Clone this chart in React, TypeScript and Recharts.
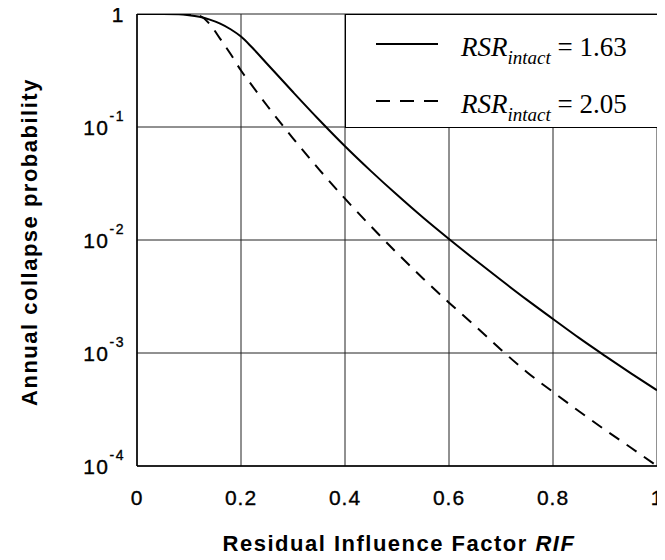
import React from 'react';
import { LineChart, Line, XAxis, YAxis, CartesianGrid, Legend, Label } from 'recharts';

// Residual Influence Factor (x) and annual collapse probability
const rif = [0, 0.05, 0.08, 0.1, 0.12, 0.14, 0.16, 0.18, 0.2, 0.22, 0.25, 0.3, 0.35, 0.4, 0.45, 0.5, 0.55, 0.6, 0.65, 0.7, 0.75, 0.8, 0.85, 0.9, 0.95, 1];
const pRsr163 = [1, 1, 0.995, 0.977, 0.944, 0.891, 0.822, 0.733, 0.631, 0.513, 0.363, 0.204, 0.116, 0.0676, 0.0407, 0.0251, 0.0158, 0.0102, 0.00668, 0.00442, 0.00295, 0.002, 0.00136, 0.000944, 0.000661, 0.000468];
const pRsr205 = [1, 1, 1, 0.995, 0.966, 0.813, 0.603, 0.442, 0.316, 0.237, 0.155, 0.0794, 0.0422, 0.0232, 0.0132, 0.00767, 0.00457, 0.00279, 0.00174, 0.00107, 0.000676, 0.000452, 0.000305, 0.000209, 0.000145, 0.0001];

const xTicks = [0, 0.2, 0.4, 0.6, 0.8, 1];
const yTicks = [1e-4, 1e-3, 1e-2, 1e-1, 1];
const yExponents = ['-4', '-3', '-2', '-1', ''];

const seriesKeys = ['rsr163', 'rsr205'];
const seriesValues = ['1.63', '2.05'];
const seriesDash = [undefined, '12 9'];

const data = rif.map((x, i) => ({ rif: x, rsr163: pRsr163[i], rsr205: pRsr205[i] }));

const SANS = 'Arial, "Liberation Sans", Helvetica, sans-serif';
const SERIF = '"Times New Roman", "Liberation Serif", Times, serif';

const XTick = (props: any) => {
    const { x, y, payload } = props;
    return (
        <text x={x} y={y + 39} textAnchor="middle" fontFamily={SANS} fontSize={21} letterSpacing={1}
            fill="#000" stroke="#000" strokeWidth={0.35}>
            {payload.value}
        </text>
    );
};

const YTick = (props: any) => {
    const { x, y, payload } = props;
    const idx = yTicks.indexOf(payload.value);
    const exp = yExponents[idx];
    const common = {
        x: x - 12, y: y + 7.5, textAnchor: 'end' as const, fontFamily: SANS, fontSize: 21,
        letterSpacing: 1.5, fill: '#000', stroke: '#000', strokeWidth: 0.35,
    };
    if (!exp) {
        return <text {...common}>1</text>;
    }
    return (
        <text {...common}>
            10<tspan dy={-14} fontSize={14}>{exp}</tspan>
        </text>
    );
};

const XTitle = (props: any) => {
    const { viewBox } = props;
    const cx = viewBox.x + viewBox.width / 2 + 2;
    return (
        <text x={cx} y={viewBox.y + 85} textAnchor="middle" fontFamily={SANS} fontSize={22} fontWeight="bold" letterSpacing={1.5} fill="#000">
            Residual Influence Factor <tspan fontStyle="italic">RIF</tspan>
        </text>
    );
};

const YTitle = (props: any) => {
    const { viewBox } = props;
    const cy = viewBox.y + viewBox.height / 2 + 2;
    return (
        <text x={37} y={cy} transform={`rotate(-90 37 ${cy})`} textAnchor="middle" fontFamily={SANS} fontSize={22} fontWeight="bold" letterSpacing={1.5} fill="#000">
            Annual collapse probability
        </text>
    );
};

const LegendBox = () => (
    <svg width={313} height={114} style={{ display: 'block' }}>
        <rect x={0.5} y={0.5} width={312} height={113} fill="#fff" stroke="#000" strokeWidth={1} />
        {seriesKeys.map((k, i) => {
            const rowY = 30 + i * 57;
            return (
                <g key={k}>
                    <line x1={31} x2={93} y1={rowY} y2={rowY} stroke="#000" strokeWidth={2} strokeDasharray={seriesDash[i] ? '14 10' : undefined} />
                    <text x={116} y={rowY + 12} fontFamily={SERIF} fontSize={27} fill="#000">
                        <tspan fontStyle="italic">RSR</tspan>
                        <tspan fontStyle="italic" fontSize={19} dy={8}>intact</tspan>
                        <tspan dy={-8}> = {seriesValues[i]}</tspan>
                    </text>
                </g>
            );
        })}
    </svg>
);

export default function App() {
    return (
        <div style={{ margin: -8 }}>
            <LineChart width={665} height={560} data={data} margin={{ top: 14, right: 8, bottom: 0, left: 0 }}>
                <CartesianGrid stroke="#222" strokeWidth={1} />
                <XAxis
                    dataKey="rif"
                    type="number"
                    domain={[0, 1]}
                    ticks={xTicks}
                    height={94}
                    tickSize={0}
                    tickMargin={0}
                    tickLine={false}
                    axisLine={{ stroke: '#000', strokeWidth: 1.5 }}
                    tick={<XTick />}
                >
                    <Label content={<XTitle />} />
                </XAxis>
                <YAxis
                    type="number"
                    scale="log"
                    domain={[1e-4, 1]}
                    allowDataOverflow
                    ticks={yTicks}
                    width={137}
                    tickSize={0}
                    tickMargin={0}
                    tickLine={false}
                    axisLine={{ stroke: '#000', strokeWidth: 1.5 }}
                    tick={<YTick />}
                >
                    <Label content={<YTitle />} />
                </YAxis>
                <Legend
                    layout="horizontal"
                    verticalAlign="middle"
                    align="center"
                    content={<LegendBox />}
                    wrapperStyle={{ left: 345, top: 14, width: 313, height: 114 }}
                />
                {seriesKeys.map((k, i) => (
                    <Line
                        key={k}
                        dataKey={k}
                        name={`RSR intact = ${seriesValues[i]}`}
                        type="monotone"
                        stroke="#000"
                        strokeWidth={2}
                        strokeDasharray={seriesDash[i]}
                        dot={false}
                        isAnimationActive={false}
                    />
                ))}
            </LineChart>
        </div>
    );
}
